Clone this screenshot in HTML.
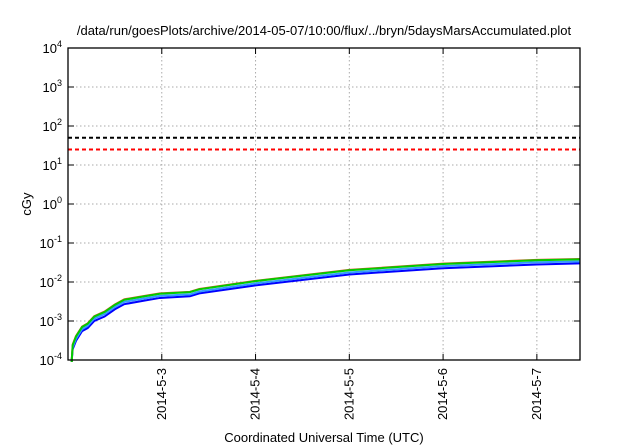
<!DOCTYPE html>
<html><head><meta charset="utf-8"><style>
body{margin:0;background:#fff;}
svg{display:block;font-family:"Liberation Sans",sans-serif;}
</style></head><body>
<svg id="chart" width="640" height="448">
<text x="324" y="35" font-size="13" text-anchor="middle">/data/run/goesPlots/archive/2014-05-07/10:00/flux/../bryn/5daysMarsAccumulated.plot</text>
<g id="grid"></g>
<g id="yaxis"></g>
<g id="xaxis"></g>
<g id="series"></g>
<rect x="68" y="48" width="512" height="312" fill="none" stroke="#000" stroke-width="1.3"/>
<text x="31" y="204" font-size="13" text-anchor="middle" transform="rotate(-90 31 204)">cGy</text>
<text x="324" y="442" font-size="13" text-anchor="middle">Coordinated Universal Time (UTC)</text>
</svg>
<script>
const yExps=[-4,-3,-2,-1,0,1,2,3,4];
const xTicks=[3,4,5,6,7];
const xTickLabels=["2014-5-3","2014-5-4","2014-5-5","2014-5-6","2014-5-7"];
const thresholds=[50,25];
const days=[2.04,2.05,2.085,2.15,2.21,2.28,2.39,2.5,2.6,2.82,2.98,3.3,3.4,4.0,5.0,6.0,7.0,7.46];
const green=[1e-4,2.4e-4,4e-4,7e-4,8.5e-4,1.3e-3,1.7e-3,2.6e-3,3.5e-3,4.3e-3,5e-3,5.5e-3,6.5e-3,1.05e-2,2e-2,2.9e-2,3.6e-2,3.8e-2];
const red=[1e-4,2.5e-4,4.1e-4,7.2e-4,8.7e-4,1.33e-3,1.75e-3,2.65e-3,3.6e-3,4.4e-3,5.1e-3,5.6e-3,6.6e-3,1.07e-2,2.05e-2,2.95e-2,3.7e-2,3.9e-2];
const lightBlue=[1e-4,2.1e-4,3.5e-4,6.2e-4,7.5e-4,1.15e-3,1.5e-3,2.3e-3,3.1e-3,3.8e-3,4.4e-3,4.8e-3,5.7e-3,9.2e-3,1.75e-2,2.55e-2,3.2e-2,3.35e-2];
const blue=[1e-4,1.9e-4,3.1e-4,5.5e-4,6.6e-4,1.0e-3,1.3e-3,2.0e-3,2.7e-3,3.35e-3,3.9e-3,4.3e-3,5.1e-3,8.2e-3,1.56e-2,2.26e-2,2.8e-2,3.0e-2];
const L=68,R=580,T=48,B=360,X0=2.0,X1=7.46;
const NS="http://www.w3.org/2000/svg";
function sx(d){return L+(d-X0)/(X1-X0)*(R-L);}
function sy(v){return T+(4-Math.log10(v))/8*(B-T);}
function mk(tag,attrs,parent){const e=document.createElementNS(NS,tag);for(const k in attrs)e.setAttribute(k,attrs[k]);parent.appendChild(e);return e;}
const grid=document.getElementById('grid'),ya=document.getElementById('yaxis'),xa=document.getElementById('xaxis'),sg=document.getElementById('series');
yExps.forEach(e=>{const y=sy(Math.pow(10,e));
 if(e>-4&&e<4){const g=mk('line',{x1:L,x2:R,y1:y,y2:y,stroke:'#aaa','stroke-dasharray':'1.5,2.5','stroke-width':1},grid);
 
 }
 const t1=mk('line',{x1:L,x2:L+6,y1:y,y2:y,stroke:'#000'},ya);
 
 
 const t2=mk('line',{x1:R-6,x2:R,y1:y,y2:y,stroke:'#000'},ya);
 
 
 const tx=mk('text',{x:62,y:y+5,'font-size':13,'text-anchor':'end'},ya);
 
 
 tx.textContent='10';
 const sp=mk('tspan',{dy:-6,'font-size':9},tx);sp.textContent=String(e);
});
xTicks.forEach((d,i)=>{const x=sx(d);
 const g=mk('line',{x1:x,x2:x,y1:T,y2:B,stroke:'#aaa','stroke-dasharray':'1.5,2.5','stroke-width':1},grid);
 
 
 const t1=mk('line',{x1:x,x2:x,y1:B-6,y2:B,stroke:'#000'},xa);
 
 
 const t2=mk('line',{x1:x,x2:x,y1:T,y2:T+6,stroke:'#000'},xa);
 
 
 const tx=mk('text',{x:x+4,y:368,'font-size':13,'text-anchor':'end',transform:`rotate(-90 ${x+4} 368)`},xa);
 
 
 tx.textContent=xTickLabels[i];
});
const tcol=['#000','#f00'];
thresholds.forEach((v,i)=>{const y=sy(v);
 const l=mk('line',{x1:L,x2:R,y1:y,y2:y,stroke:tcol[i],'stroke-width':2,'stroke-dasharray':'4,3'},sg);
 
 
});
const ser=[[blue,'#0000ff','series-blue'],[lightBlue,'#3399ff','series-light-blue'],[red,'#e05020','series-red'],[green,'#00cc00','series-green']];
ser.forEach(([vals,c,n])=>{
 const pts=[[sx(days[0]),B+2]].concat(vals.map((v,i)=>[sx(days[i]),sy(v)]));
 const p=mk('polyline',{points:pts.map(q=>q.join(',')).join(' '),fill:'none',stroke:c,'stroke-width':2},sg);
 
 
});
</script>
</body></html>
